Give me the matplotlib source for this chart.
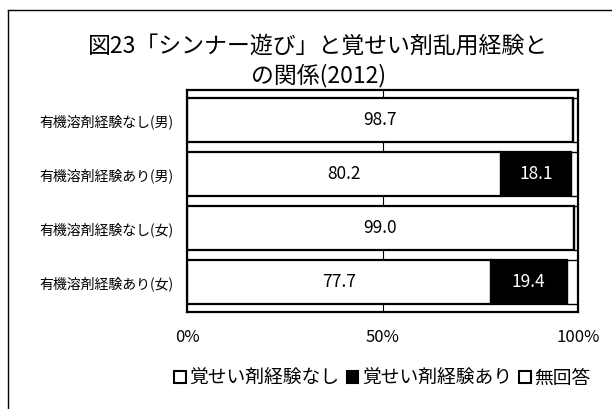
import matplotlib
matplotlib.use("Agg")
import matplotlib.pyplot as plt
from matplotlib.patches import Patch
from matplotlib.lines import Line2D

plt.rcParams["font.family"] = ["Noto Sans CJK JP", "DejaVu Sans"]

categories = ["有機溶剤経験なし(男)", "有機溶剤経験あり(男)", "有機溶剤経験なし(女)", "有機溶剤経験あり(女)"]
no_stim = [98.7, 80.2, 99.0, 77.7]
yes_stim = [0.0, 18.1, 0.0, 19.4]
no_answer = [1.3, 1.7, 1.0, 2.9]
series_names = ["覚せい剤経験なし", "覚せい剤経験あり", "無回答"]
xticks = [0, 50, 100]

fig = plt.figure(figsize=(6.12, 4.09), dpi=100, facecolor="white")
ax = fig.add_axes((187 / 612, 1 - 312 / 409, 391 / 612, 222 / 409))

ys = list(range(len(categories)))
h = 0.82
ax.barh(ys, no_stim, height=h, color="white", edgecolor="black", lw=1.6, zorder=2)
ax.barh(ys, yes_stim, left=no_stim, height=h, color="black", edgecolor="black", lw=1.6, zorder=2)
lefts = [a + b for a, b in zip(no_stim, yes_stim)]
ax.barh(ys, no_answer, left=lefts, height=h, color="white", edgecolor="black", lw=1.0, zorder=2)

for y, a, b in zip(ys, no_stim, yes_stim):
    ax.text(a / 2, y, f"{a:.1f}", ha="center", va="center", fontsize=12.5, color="black", zorder=3)
    if b > 0:
        ax.text(a + b / 2, y, f"{b:.1f}", ha="center", va="center", fontsize=12.5, color="white", zorder=3)

ax.set_xlim(0, 100)
ax.set_ylim(3.55, -0.55)
ax.set_xticks(xticks)
ax.set_xticklabels([f"{t}%" for t in xticks], fontsize=12)
ax.xaxis.grid(True, color="black", lw=0.8, zorder=0)
ax.set_yticks(ys)
ax.set_yticklabels(categories, fontsize=10)
ax.tick_params(axis="x", length=0, pad=12)
ax.tick_params(axis="y", length=0, pad=10)
for s in ax.spines.values():
    s.set_linewidth(1.6)

fig.text(0.52, 0.888, "図23「シンナー遊び」と覚せい剤乱用経験と", ha="center", va="center", fontsize=16.5)
fig.text(0.52, 0.815, "の関係(2012)", ha="center", va="center", fontsize=16.5)

handles = [Patch(facecolor="white", edgecolor="black", lw=1.5),
           Patch(facecolor="black", edgecolor="black", lw=1.5),
           Patch(facecolor="white", edgecolor="black", lw=1.5)]
fig.legend(handles, series_names, loc="center", bbox_to_anchor=(0.625, 1 - 378 / 409), ncol=3,
           frameon=False, fontsize=13.5, handlelength=0.6, handleheight=0.6, handletextpad=0.2,
           columnspacing=0.4)

# outer chart frame
fig.add_artist(Line2D([8 / 612, 8 / 612], [0, 1 - 10 / 409], color="black", lw=1.0))
fig.add_artist(Line2D([8 / 612, 1], [1 - 10 / 409, 1 - 10 / 409], color="black", lw=1.0))

fig.savefig("out.png", dpi=100, facecolor="white")
